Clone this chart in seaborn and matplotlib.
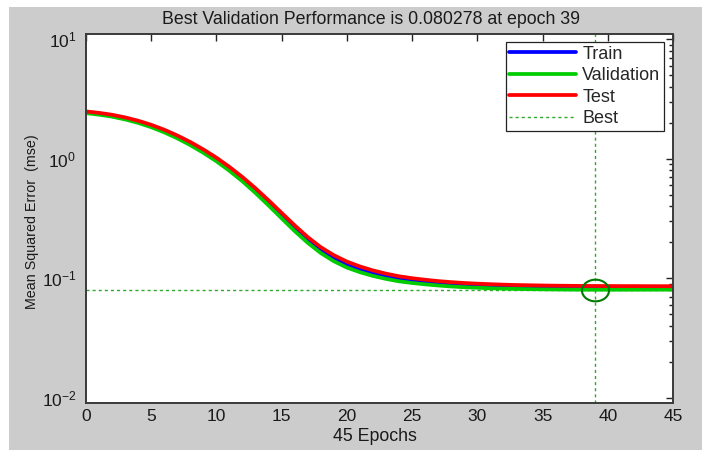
import matplotlib
matplotlib.use("Agg")
import matplotlib.pyplot as plt
import pandas as pd
import seaborn as sns
from matplotlib import font_manager
from matplotlib.lines import Line2D
from matplotlib.patches import Rectangle
from matplotlib.path import Path
from matplotlib.transforms import Affine2D
from matplotlib.ticker import LogLocator, NullFormatter, FixedLocator

# Training record of the network (mean squared error per epoch)
epochs = list(range(46))
train_mse = [2.443, 2.374, 2.286, 2.170, 2.033, 1.875, 1.702, 1.520, 1.336, 1.156,
             0.984, 0.821, 0.673, 0.540, 0.426, 0.334, 0.262, 0.209, 0.172, 0.147,
             0.1304, 0.1190, 0.1104, 0.1040, 0.0990, 0.0955, 0.0928, 0.0905, 0.0888, 0.0874,
             0.0864, 0.0856, 0.0849, 0.0844, 0.0840, 0.0837, 0.0835, 0.0833, 0.0832, 0.0831,
             0.0830, 0.0830, 0.0829, 0.0829, 0.0829, 0.0828]
validation_mse = [2.404, 2.333, 2.244, 2.128, 1.991, 1.832, 1.660, 1.479, 1.297, 1.119,
                  0.951, 0.791, 0.646, 0.516, 0.406, 0.317, 0.248, 0.198, 0.1626, 0.1390,
                  0.1230, 0.1125, 0.1047, 0.0989, 0.0944, 0.0914, 0.0891, 0.0871, 0.0855, 0.0843,
                  0.0834, 0.0826, 0.0820, 0.0815, 0.0812, 0.0809, 0.08068, 0.08050, 0.08037, 0.080278,
                  0.08030, 0.08033, 0.08036, 0.08040, 0.08043, 0.08046]
test_mse = [2.483, 2.415, 2.328, 2.213, 2.075, 1.919, 1.746, 1.563, 1.377, 1.194,
            1.019, 0.853, 0.701, 0.565, 0.448, 0.352, 0.277, 0.221, 0.182, 0.156,
            0.138, 0.1256, 0.1164, 0.1094, 0.1040, 0.1002, 0.0973, 0.0948, 0.0929, 0.0914,
            0.0902, 0.0893, 0.0885, 0.0879, 0.0875, 0.0871, 0.0868, 0.0866, 0.0864, 0.0863,
            0.0862, 0.0861, 0.0861, 0.0860, 0.0860, 0.0859]
series_names = ["Train", "Validation", "Test"]
series_colors = {"Train": "#0000ff", "Validation": "#00cc00", "Test": "#ff0000"}
best_epoch = 39
best_perf = validation_mse[best_epoch]
x_ticks = [0, 5, 10, 15, 20, 25, 30, 35, 40, 45]

df = pd.DataFrame({
    "epoch": epochs * 3,
    "mse": train_mse + validation_mse + test_mse,
    "series": [s for s in series_names for _ in epochs],
})

sns.set_theme(style="white")
plt.rcParams["font.family"] = ["Liberation Sans", "DejaVu Sans"]
plt.rcParams["mathtext.fontset"] = "custom"
plt.rcParams["mathtext.rm"] = "Liberation Sans"

# Narrow face for the vertical label if one is available
installed = {f.name for f in font_manager.fontManager.ttflist}
if "Liberation Sans Narrow" in installed:
    ylabel_family, ylabel_size = ["Liberation Sans Narrow", "DejaVu Sans"], 12
else:
    ylabel_family, ylabel_size = ["Liberation Sans", "DejaVu Sans"], 10.3

text_color = "#1a1a1a"
W, H = 702, 450
fig = plt.figure(figsize=(W / 100, H / 100), dpi=100, facecolor="white")
fig.patches.append(Rectangle((9 / W, 0), 1, 1 - 7 / H, transform=fig.transFigure,
                             facecolor="#cccccc", edgecolor="none", zorder=-10))
ax = fig.add_axes([86 / W, 1 - 403 / H, 587 / W, 369 / H])
ax.set_facecolor("white")

sns.lineplot(data=df, x="epoch", y="mse", hue="series", hue_order=series_names,
             palette=series_colors, linewidth=2.7, ax=ax, legend=False)

best_color = "#2ea82e"
best_dash = (0, (2.2, 2.2))
ax.axhline(best_perf, color=best_color, lw=1.0, ls=best_dash, zorder=1)
ax.axvline(best_epoch, color=best_color, lw=1.0, ls=best_dash, zorder=1)
ellipse = Path(Affine2D().scale(1.0, 0.8).transform(Path.unit_circle().vertices),
               Path.unit_circle().codes)
ax.plot([best_epoch], [best_perf], marker=ellipse, ms=19.5, mfc="none",
        mec="#007a00", mew=1.5, ls="none", zorder=5)

ax.set_yscale("log")
ax.set_xlim(0, 45)
ax.set_ylim(10 ** -2.042, 10 ** 1.042)
ax.xaxis.set_major_locator(FixedLocator(x_ticks))
ax.yaxis.set_major_locator(LogLocator(base=10, numticks=10))
ax.yaxis.set_minor_locator(LogLocator(base=10, subs=range(2, 10), numticks=20))
ax.yaxis.set_minor_formatter(NullFormatter())

for side in ["left", "right", "top", "bottom"]:
    ax.spines[side].set_color("#3a3a3a")
    ax.spines[side].set_linewidth(1.4)
ax.tick_params(which="both", direction="in", top=True, right=True,
               color="#222222", width=1.0, labelsize=12.5, labelcolor=text_color)
ax.tick_params(which="major", length=5)
ax.tick_params(which="minor", length=3)
ax.tick_params(axis="x", pad=4)
ax.tick_params(axis="y", pad=7)

ax.set_title(f"Best Validation Performance is {best_perf:g} at epoch {best_epoch}",
             fontsize=12.8, color=text_color, pad=7.5, x=0.4855)
ax.set_xlabel(f"{len(epochs) - 1} Epochs", fontsize=12.8, color=text_color)
ax.xaxis.set_label_coords(0.493, -0.068)
ax.set_ylabel("Mean Squared Error  (mse)", fontsize=ylabel_size, color=text_color,
              family=ylabel_family)
ax.yaxis.set_label_coords(-0.080, 0.492)

handles = [Line2D([], [], color=series_colors[s], lw=2.7) for s in series_names]
handles.append(Line2D([], [], color=best_color, lw=1.0, ls=best_dash))
leg = ax.legend(handles, series_names + ["Best"], loc="upper right",
                bbox_to_anchor=(578 / 587, 361 / 369), borderaxespad=0,
                fontsize=13, handlelength=3.7, handletextpad=0.35,
                labelspacing=0.25, fancybox=False, framealpha=1,
                edgecolor="#222222", borderpad=0.2)
leg.get_frame().set_linewidth(0.9)

fig.savefig("out.png", dpi=100, facecolor=fig.get_facecolor())
